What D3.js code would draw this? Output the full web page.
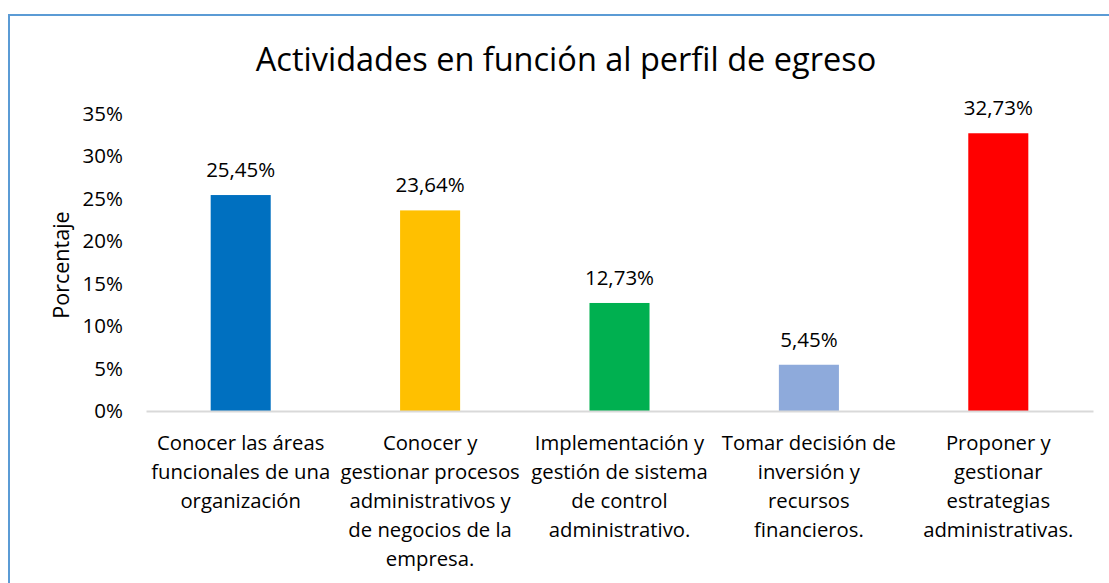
<!DOCTYPE html>
<html>
<head>
<meta charset="utf-8">
<script src="https://cdn.jsdelivr.net/npm/d3@7"></script>
<style>
  body { margin: 0; background: #fff; }
  svg { font-family: 'Open Sans', 'Noto Sans', sans-serif; }
</style>
</head>
<body>
<svg id="chart" width="1109" height="583"></svg>
<script>
// ---- data ----
var categories = ["c1", "c2", "c3", "c4", "c5"];
var categoryLabels = [
  ["Conocer las áreas", "funcionales de una", "organización"],
  ["Conocer y", "gestionar procesos", "administrativos y", "de negocios de la", "empresa."],
  ["Implementación y", "gestión de sistema", "de control", "administrativo."],
  ["Tomar decisión de", "inversión y", "recursos", "financieros."],
  ["Proponer y", "gestionar", "estrategias", "administrativas."]
];
var values = [25.45, 23.64, 12.73, 5.45, 32.73];
var barColors = ["#0070c0", "#ffc000", "#00b050", "#8eaadb", "#ff0000"];
var yTicks = [0, 5, 10, 15, 20, 25, 30, 35];

var svg = d3.select("#chart");

// outer frame
svg.append("rect")
  .attr("x", 9).attr("y", 15)
  .attr("width", 1120).attr("height", 600)
  .attr("fill", "none")
  .attr("stroke", "#5b9bd5")
  .attr("stroke-width", 2);

var margin = { top: 114, left: 146, right: 16, bottom: 172 };
var width = 1109 - margin.left - margin.right,
    height = 583 - margin.top - margin.bottom;

var g = svg.append("g").attr("transform", "translate(" + margin.left + "," + margin.top + ")");

var x = d3.scaleBand().domain(categories).range([0, width]).paddingInner(0.683).paddingOuter(0.3415);
var y = d3.scaleLinear().domain([0, 35]).range([height, 0]);

// title
svg.append("text")
  .attr("x", 566).attr("y", 71)
  .attr("text-anchor", "middle")
  .attr("font-size", 32.5)
  .attr("fill", "#000")
  .text("Actividades en función al perfil de egreso");

// y axis
g.append("g")
  .call(d3.axisLeft(y).tickValues(yTicks).tickFormat(function(d){ return d + "%"; }).tickSize(0).tickPadding(23))
  .call(function(a){ a.select(".domain").remove(); })
  .call(function(a){ a.selectAll("text").attr("font-size", 20.5).attr("fill", "#000").attr("font-family", "'Open Sans', sans-serif"); });

// y title
svg.append("text")
  .attr("transform", "translate(69,265) rotate(-90)")
  .attr("text-anchor", "middle")
  .attr("font-size", 21.5)
  .attr("fill", "#000")
  .text("Porcentaje");

// bars
g.selectAll("rect.bar")
  .data(values)
  .enter().append("rect")
  .attr("class", "bar")
  .attr("x", function(d, i){ return x(categories[i]); })
  .attr("y", function(d){ return y(d); })
  .attr("width", x.bandwidth())
  .attr("height", function(d){ return height - y(d); })
  .attr("fill", function(d, i){ return barColors[i]; });

// x axis
var xAxis = g.append("g")
  .attr("transform", "translate(0," + height + ")")
  .call(d3.axisBottom(x).tickSize(0).tickFormat(""));
xAxis.select(".domain").attr("stroke", "#d9d9d9").attr("stroke-width", 2);

// category labels (multi-line)
g.selectAll("text.cat")
  .data(categories)
  .enter().append("text")
  .attr("class", "cat")
  .attr("text-anchor", "middle")
  .attr("font-size", 20.3)
  .attr("fill", "#000")
  .each(function(d, i){
    var t = d3.select(this);
    categoryLabels[i].forEach(function(line, j){
      t.append("tspan")
        .attr("x", x(d) + x.bandwidth() / 2)
        .attr("y", height + 39 + j * 29)
        .text(line);
    });
  });

// value labels
g.selectAll("text.val")
  .data(values)
  .enter().append("text")
  .attr("class", "val")
  .attr("text-anchor", "middle")
  .attr("font-size", 20.5)
  .attr("fill", "#000")
  .attr("x", function(d, i){ return x(categories[i]) + x.bandwidth() / 2; })
  .attr("y", function(d){ return y(d) - 18; })
  .text(function(d){ return d.toFixed(2).replace(".", ",") + "%"; });
</script>
</body>
</html>
